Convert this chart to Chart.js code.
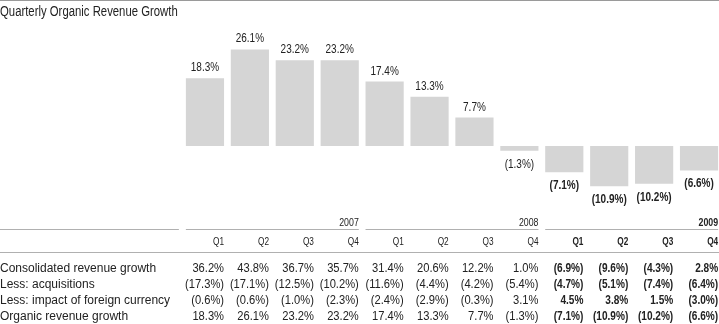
<!DOCTYPE html>
<html>
<head>
<meta charset="utf-8">
<script src="https://cdn.jsdelivr.net/npm/chart.js@4/dist/chart.umd.min.js"></script>
<style>
  body { margin: 0; background: #fff; overflow: hidden; }
  #wrap { width: 719px; height: 324px; overflow: hidden; }
</style>
</head>
<body>
<div id="wrap"><canvas id="growthChart" width="722" height="324"></canvas></div>
<script>
const years = ['2007', '2008', '2009'];
const quarters = ['Q1', 'Q2', 'Q3', 'Q4'];
const categories = years.flatMap(y => quarters.map(q => y + ' ' + q));

const organicGrowth = [18.3, 26.1, 23.2, 23.2, 17.4, 13.3, 7.7, -1.3, -7.1, -10.9, -10.2, -6.6];
const consolidatedGrowth = [36.2, 43.8, 36.7, 35.7, 31.4, 20.6, 12.2, 1.0, -6.9, -9.6, -4.3, 2.8];
const acquisitions = [-17.3, -17.1, -12.5, -10.2, -11.6, -4.4, -4.2, -5.4, -4.7, -5.1, -7.4, -6.4];
const foreignCurrency = [-0.6, -0.6, -1.0, -2.3, -2.4, -2.9, -0.3, 3.1, 4.5, 3.8, 1.5, -3.0];

const tableRows = [
    ['Consolidated revenue growth', consolidatedGrowth],
    ['Less: acquisitions', acquisitions],
    ['Less: impact of foreign currency', foreignCurrency],
    ['Organic revenue growth', organicGrowth]
];

const FONT = "'Liberation Sans', Arial, sans-serif";
const textColor = '#222';
const ruleColor = '#b0b0b0';

function fmt(v) {
    const s = Math.abs(v).toFixed(1) + '%';
    return v < 0 ? '(' + s + ')' : s;
}
function isBold(i) { return i >= 8; }

// draws text squeezed horizontally by sx (the original uses a condensed face)
function drawText(ctx, text, x, y, align, size, bold, sx) {
    ctx.save();
    ctx.font = (bold ? 'bold ' : '') + size + 'px ' + FONT;
    ctx.textAlign = align;
    ctx.textBaseline = 'alphabetic';
    ctx.translate(x, y);
    ctx.scale(sx, 1);
    ctx.fillText(text, 0, 0);
    ctx.restore();
}

const tablePlugin = {
    id: 'tablePlugin',
    afterDraw(chart) {
        const ctx = chart.ctx;
        const meta = chart.getDatasetMeta(0);
        const half = meta.data[0].width / 2;
        const right = i => Math.min(meta.data[i].x + half, 719);
        const left = i => meta.data[i].x - half;
        const yScale = chart.scales.y;

        ctx.save();
        ctx.fillStyle = '#9a9a9a';
        ctx.fillRect(0, 0, 719, 1);

        ctx.fillStyle = textColor;
        drawText(ctx, 'Quarterly Organic Revenue Growth', 0, 16, 'left', 14, false, 0.81);

        // bar value labels
        organicGrowth.forEach((v, i) => {
            const y = yScale.getPixelForValue(v);
            drawText(ctx, fmt(v), meta.data[i].x, v >= 0 ? y - 7 : y + 17, 'center', 13, isBold(i), 0.77);
        });

        // year header
        years.forEach((yr, g) => {
            drawText(ctx, yr, right(g * 4 + 3), 226, 'right', 11, g === 2, 0.8);
        });

        // rules
        ctx.fillStyle = ruleColor;
        ctx.fillRect(0, 229, left(0) - 7, 1);
        years.forEach((yr, g) => {
            const x0 = left(g * 4);
            ctx.fillRect(x0, 229, right(g * 4 + 3) - x0, 1);
        });
        ctx.fillRect(0, 252, 719, 1);

        // quarter header
        ctx.fillStyle = textColor;
        categories.forEach((c, i) => {
            drawText(ctx, quarters[i % 4], right(i), 245, 'right', 11, isBold(i), 0.75);
        });

        // data rows
        const rowY = [272, 288, 304, 320];
        tableRows.forEach(([label, values], r) => {
            drawText(ctx, label, 0, rowY[r], 'left', 12, false, 1);
            values.forEach((v, i) => {
                drawText(ctx, fmt(v), right(i), rowY[r], 'right', 12, isBold(i), isBold(i) ? 0.84 : 0.93);
            });
        });
        ctx.restore();
    }
};

new Chart(document.getElementById('growthChart').getContext('2d'), {
    type: 'bar',
    data: {
        labels: categories,
        datasets: [{
            label: 'Organic revenue growth',
            data: organicGrowth,
            backgroundColor: '#d5d5d5',
            borderWidth: 0,
            barPercentage: 0.85,
            categoryPercentage: 1.0
        }]
    },
    options: {
        responsive: false,
        animation: false,
        layout: { padding: { left: 182.5, right: 0.5, top: 40, bottom: 124 } },
        plugins: { legend: { display: false }, tooltip: { enabled: false } },
        scales: {
            x: { display: false },
            y: { display: false, min: -14.6, max: 28.65 }
        }
    },
    plugins: [tablePlugin]
});
</script>
</body>
</html>
